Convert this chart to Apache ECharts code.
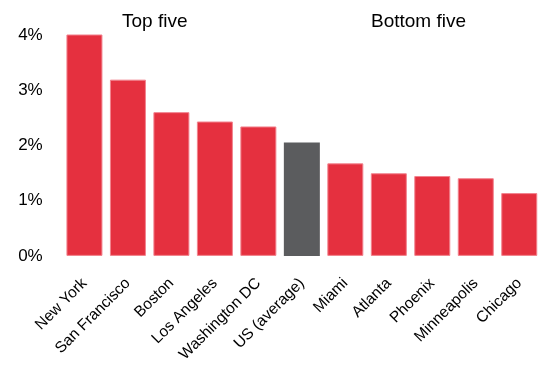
<!DOCTYPE html>
<html>
<head>
<meta charset="utf-8">
<script src="https://cdn.jsdelivr.net/npm/echarts@6/dist/echarts.min.js"></script>
<style>
  html, body { margin: 0; padding: 0; background: #fff; }
  #chart { width: 541px; height: 365px; }
</style>
</head>
<body>
<div id="chart"></div>
<script>
// Metro areas, ranked by share (%)
const cities = ['New York', 'San Francisco', 'Boston', 'Los Angeles', 'Washington DC',
  'US (average)', 'Miami', 'Atlanta', 'Phoenix', 'Minneapolis', 'Chicago'];
const shares = [4.02, 3.20, 2.61, 2.44, 2.35, 2.06, 1.68, 1.50, 1.45, 1.41, 1.14];
const averageLabel = 'US (average)';
const yTicks = [0, 1, 2, 3, 4];

const RED = '#E5303F';
const GREY = '#5B5C5E';
const FONT = '"Liberation Sans", Arial, sans-serif';

const chart = echarts.init(document.getElementById('chart'), null, { renderer: 'canvas' });

chart.setOption({
  animation: false,
  grid: { left: 62.7, right: -0.7, top: 35.6, bottom: 107.5, containLabel: false },
  xAxis: {
    type: 'category',
    data: cities,
    axisLine: { show: false },
    axisTick: { show: false },
    axisLabel: {
      interval: 0,
      rotate: 45,
      margin: 25,
      fontFamily: FONT,
      fontSize: 15.5,
      color: '#000'
    }
  },
  yAxis: {
    type: 'value',
    min: yTicks[0],
    max: yTicks[yTicks.length - 1],
    interval: 1,
    splitLine: { show: false },
    axisLine: { show: false },
    axisTick: { show: false },
    axisLabel: {
      margin: 20,
      fontFamily: FONT,
      fontSize: 17,
      color: '#000',
      padding: [0, 0, 3, 0],
      formatter: v => v + '%'
    }
  },
  series: [{
    type: 'bar',
    clip: false,
    barWidth: 36,
    data: cities.map((c, i) => ({
      value: shares[i],
      itemStyle: c === averageLabel
        ? { color: GREY, borderWidth: 0 }
        : { color: RED, borderColor: '#F2838E', borderWidth: 1 }
    }))
  }],
  graphic: [
    {
      type: 'text', left: 122, top: 12,
      style: { text: 'Top five', fontFamily: FONT, fontSize: 19, fill: '#000' }
    },
    {
      type: 'text', left: 371, top: 12,
      style: { text: 'Bottom five', fontFamily: FONT, fontSize: 19, fill: '#000' }
    }
  ]
});
</script>
</body>
</html>
